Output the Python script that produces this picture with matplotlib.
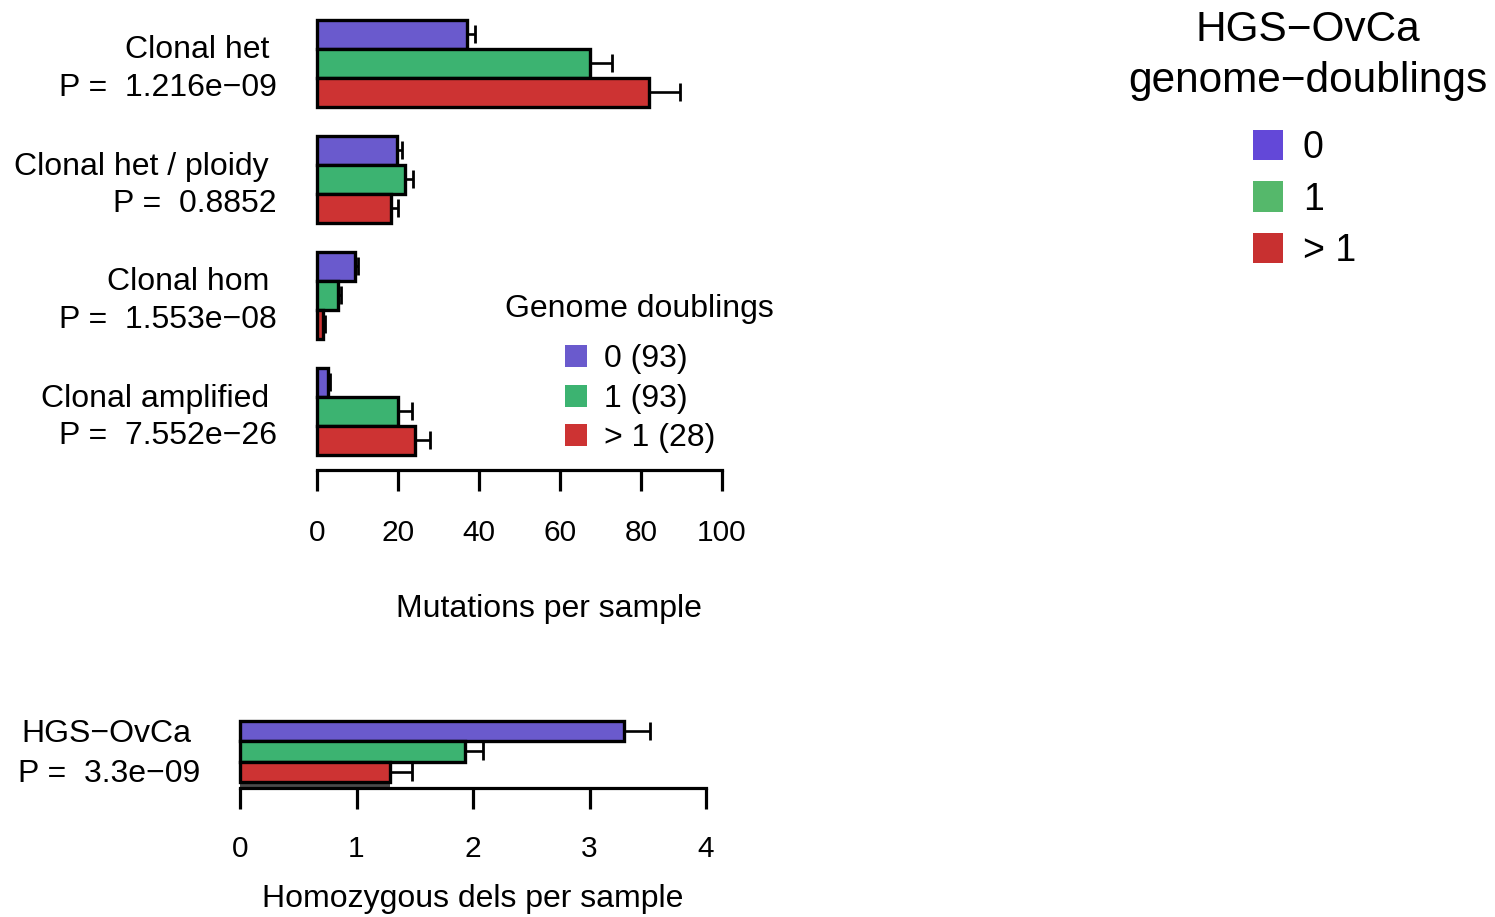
import numpy as np
import matplotlib as mpl
mpl.use('Agg')
import matplotlib.pyplot as plt
from matplotlib.patches import Rectangle

plt.rcParams['font.family'] = ['Liberation Sans', 'DejaVu Sans']

# Mutation classes and their test results
categories = ['Clonal het', 'Clonal het / ploidy', 'Clonal hom', 'Clonal amplified']
p_values = ['1.216e\u221209', '0.8852', '1.553e\u221208', '7.552e\u221226']

# Mean mutations per sample for 0, 1 and >1 genome doublings (with standard errors)
gd0_mean = [37.0, 19.7, 9.4, 2.8]
gd1_mean = [67.3, 21.7, 5.3, 20.1]
gd2_mean = [81.9, 18.2, 1.6, 24.2]
gd0_err = [1.9, 1.2, 0.8, 0.4]
gd1_err = [5.5, 2.1, 0.6, 3.3]
gd2_err = [7.7, 1.7, 0.3, 3.7]

# Homozygous deletions per sample
hd_label = 'HGS\u2212OvCa'
hd_p = '3.3e\u221209'
hd_mean = [3.30, 1.93, 1.29]
hd_err = [0.22, 0.16, 0.19]

group_names = ['0 (93)', '1 (93)', '> 1 (28)']
gd_levels = ['0', '1', '> 1']
bar_colors = ['#6A5ACD', '#3CB371', '#CD3333']
key_colors = ['#6348D8', '#55B86B', '#C83030']

W, H = 1495, 917
fig = plt.figure(figsize=(W / 100, H / 100), dpi=100)


def px_axes(x0, x1, y0, y1):
    # axes from pixel box (top-left origin)
    return fig.add_axes([x0 / W, 1 - y1 / H, (x1 - x0) / W, (y1 - y0) / H])


def px_text(x, y, s, **kw):
    # text shifted slightly so the caps sit where R puts them
    kw.setdefault('va', 'center')
    kw.setdefault('fontsize', 23)
    fig.text(x / W, 1 - (y + 3) / H, s, **kw)


def style_axis(ax):
    for s in ['top', 'right', 'left']:
        ax.spines[s].set_visible(False)
    ax.spines['bottom'].set_linewidth(2.3)
    ax.tick_params(axis='x', direction='out', length=15, width=2.3, pad=20, labelsize=21.5)
    ax.tick_params(axis='y', left=False, labelleft=False)


def hbars(ax, pos, vals, errs, color):
    ax.barh(pos, vals, height=1.0, color=color, edgecolor='black', linewidth=2.4, clip_on=False, zorder=2)
    ax.errorbar(vals, pos, xerr=[np.zeros(len(vals)), errs], fmt='none', ecolor='black',
                elinewidth=1.9, capsize=6.5, capthick=2.0, zorder=1, clip_on=False)


# Top panel: mutations per sample
ax = px_axes(317, 722, 5.5, 470)
n = len(categories)
starts = np.arange(n) * 4 + 1
for k, (m, e) in enumerate([(gd0_mean, gd0_err), (gd1_mean, gd1_err), (gd2_mean, gd2_err)]):
    hbars(ax, starts + k + 0.5, m, e, bar_colors[k])
ax.set_xlim(0, 100)
ax.set_ylim(16.52, 0.5)
ax.set_xticks([0, 20, 40, 60, 80, 100])
style_axis(ax)
px_text(549, 606, 'Mutations per sample', ha='center')

# row labels with P values
for i in range(n):
    yc = 20 + 116 * i + 43.5
    px_text(269, yc - 16, categories[i], ha='right')
    px_text(277, yc + 21, 'P =  ' + p_values[i], ha='right')

# Genome doublings key
px_text(639, 306, 'Genome doublings', ha='center')
for k, name in enumerate(group_names):
    yc = 356 + 39.5 * k
    fig.patches.append(Rectangle((565 / W, 1 - (yc + 11) / H), 22 / W, 22 / H,
                                 facecolor=bar_colors[k], edgecolor='none', transform=fig.transFigure))
    px_text(604, yc, name, ha='left')

# Bottom panel: homozygous deletions
ax2 = px_axes(240, 706, 710.75, 788)
for k in range(3):
    hbars(ax2, [k + 0.5], [hd_mean[k]], [hd_err[k]], bar_colors[k])
ax2.barh([3.5], [hd_mean[2]], height=1.0, color='#4a4a4a', edgecolor='none', zorder=1)
ax2.set_xlim(0, 4)
ax2.set_ylim(3.3, -0.5)
ax2.set_xticks([0, 1, 2, 3, 4])
style_axis(ax2)
ax2.tick_params(axis='x', pad=19)
px_text(473, 896, 'Homozygous dels per sample', ha='center')
px_text(191, 731, hd_label, ha='right')
px_text(200, 771, 'P =  ' + hd_p, ha='right')

# HGS-OvCa genome-doublings key
px_text(1308, 27, 'HGS\u2212OvCa', ha='center', fontsize=30.5)
px_text(1308, 78, 'genome\u2212doublings', ha='center', fontsize=30.5)
for k, lev in enumerate(gd_levels):
    yc = 145 + 51.5 * k
    fig.patches.append(Rectangle((1253 / W, 1 - (yc + 15) / H), 30 / W, 30 / H,
                                 facecolor=key_colors[k], edgecolor='none', transform=fig.transFigure))
    px_text(1303, yc, lev, ha='left', fontsize=27)

fig.savefig('out.png', dpi=100)
